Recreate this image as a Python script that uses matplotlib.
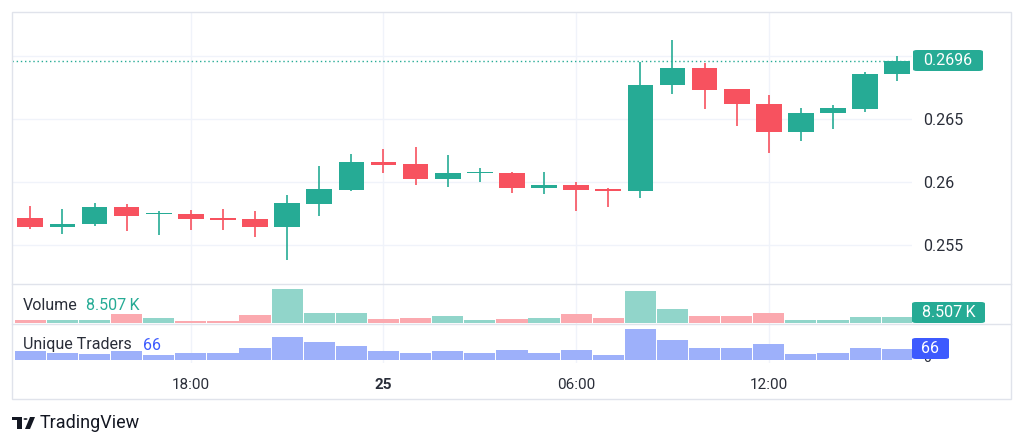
import matplotlib.pyplot as plt
from matplotlib.patches import Rectangle, FancyBboxPatch, Circle, Polygon
from matplotlib.lines import Line2D

plt.rcParams['font.family'] = ['Roboto', 'DejaVu Sans']

# hourly candles, 24th 13:00 -> 25th 16:00
opens = [0.25714, 0.25640, 0.25664, 0.25799, 0.25745, 0.25746, 0.25717, 0.25706,
         0.25645, 0.25823, 0.25937, 0.26156, 0.26140, 0.26024, 0.26069, 0.26074,
         0.25955, 0.25976, 0.25942, 0.25926, 0.26767, 0.26907, 0.26736, 0.26621,
         0.26397, 0.26545, 0.26582, 0.26855]
highs = [0.25810, 0.25786, 0.25833, 0.25828, 0.25770, 0.25778, 0.25783, 0.25770,
         0.25897, 0.26127, 0.26222, 0.26262, 0.26275, 0.26217, 0.26109, 0.26079,
         0.26077, 0.26000, 0.25950, 0.26955, 0.27127, 0.26947, 0.26736, 0.26688,
         0.26590, 0.26611, 0.26875, 0.27000]
lows = [0.25627, 0.25587, 0.25648, 0.25609, 0.25582, 0.25619, 0.25619, 0.25566,
        0.25379, 0.25730, 0.25931, 0.26071, 0.25979, 0.25963, 0.26002, 0.25910,
        0.25907, 0.25772, 0.25804, 0.25875, 0.26698, 0.26582, 0.26442, 0.26233,
        0.26325, 0.26421, 0.26556, 0.26802]
closes = [0.25643, 0.25669, 0.25799, 0.25733, 0.25750, 0.25709, 0.25698, 0.25643,
          0.25831, 0.25942, 0.26156, 0.26137, 0.26024, 0.26069, 0.26079, 0.25952,
          0.25976, 0.25939, 0.25926, 0.26767, 0.26907, 0.26730, 0.26617, 0.26397,
          0.26548, 0.26585, 0.26857, 0.26960]
volume_k = [4.0, 4.0, 4.0, 13.0, 7.0, 3.0, 3.0, 11.9, 50.2, 14.9, 14.9, 5.5, 7.0, 10.4,
            4.0, 5.5, 6.4, 13.4, 6.4, 47.7, 19.8, 9.4, 9.4, 14.5, 3.4, 3.4, 8.5, 8.507]
traders = [54, 44, 38, 54, 30, 40, 40, 70, 136, 110, 84, 54, 40, 54, 44, 58, 40, 62,
           28, 186, 120, 74, 70, 98, 38, 44, 70, 66]
time_ticks = [5, 11, 17, 23]
time_labels = ['18:00', '25', '06:00', '12:00']
price_ticks = [0.255, 0.26, 0.265]
price_labels = ['0.255', '0.26', '0.265']
last_price = 0.2696

UP = '#26ab95'
DOWN = '#f7525f'
UP_VOL = '#91d5ca'
DOWN_VOL = '#fba9af'
TR_BAR = '#9db0fa'
TR_BLUE = '#3d5afe'
GRID = '#f0f3fa'
BORDER = '#e0e3eb'
TEXT = '#131722'

W, H = 1024, 445
fig = plt.figure(figsize=(W / 100, H / 100), dpi=100)


def rect(x0, y0, x1, y1):
    # pixel box (top-left origin) -> figure rect
    return [x0 / W, 1 - y1 / H, (x1 - x0) / W, (y1 - y0) / H]


ax = fig.add_axes(rect(12, 12, 912, 284))
axv = fig.add_axes(rect(12, 284, 912, 324), sharex=ax)
axt = fig.add_axes(rect(12, 324, 912, 363), sharex=ax)

n = len(opens)
xs = list(range(n))
xlim = (-0.57, 27.46)

for a in (ax, axv, axt):
    a.set_xlim(*xlim)
    for s in a.spines.values():
        s.set_visible(False)
    a.tick_params(length=0)
    for t in time_ticks:
        a.axvline(t, color=GRID, lw=1, zorder=0)

# price pane
ax.set_ylim(0.25190, 0.27349)
for p in [0.255, 0.26, 0.265, 0.27]:
    ax.axhline(p, color=GRID, lw=1, zorder=0)
min_body = 0.00012
for i in xs:
    o, h, l, c = opens[i], highs[i], lows[i], closes[i]
    col = UP if c >= o else DOWN
    ax.vlines(i, l, h, color=col, lw=1.2, zorder=2)
    bot = min(o, c)
    ht = max(abs(c - o), min_body)
    ax.bar(i, ht, bottom=bot, width=0.8, color=col, zorder=3, lw=0)
ax.axhline(last_price, color=UP, lw=1, ls=(0, (1, 2)), zorder=1)
ax.yaxis.tick_right()
ax.set_yticks(price_ticks)
ax.set_yticklabels(price_labels)
ax.tick_params(axis='y', pad=8, labelsize=11.5, labelcolor='#2a2e39')
ax.tick_params(axis='x', labelbottom=False)

# volume pane
vcols = [UP_VOL if closes[i] >= opens[i] else DOWN_VOL for i in xs]
axv.bar(xs, volume_k, width=0.97, color=vcols, lw=0)
axv.set_ylim(-2, 58)
axv.set_yticks([])
axv.tick_params(axis='x', labelbottom=False)

# unique traders pane
axt.bar(xs, traders, width=0.97, color=TR_BAR, lw=0)
axt.set_ylim(-18, 216)
axt.set_yticks([])
axt.set_xticks(time_ticks)
axt.set_xticklabels(time_labels)
axt.tick_params(axis='x', pad=11, labelsize=11, labelcolor='#2a2e39')
axt.get_xticklabels()[1].set_fontweight('bold')

# frame and pane separators
fig.patches.append(Rectangle((12 / W, 1 - 399 / H), 999 / W, 387 / H, transform=fig.transFigure,
                             fill=False, ec=BORDER, lw=1))
for yy in (284, 324):
    fig.add_artist(Line2D([12 / W, 1011 / W], [1 - yy / H] * 2, color=BORDER, lw=1))


def label_box(x0, y0, x1, y1, color, text):
    fig.patches.append(FancyBboxPatch((x0 / W, 1 - y1 / H), (x1 - x0) / W, (y1 - y0) / H,
                                      boxstyle='round,pad=0,rounding_size=0.004',
                                      transform=fig.transFigure, fc=color, ec='none',
                                      zorder=2))
    fig.text((x0 + x1) / 2 / W, 1 - (y0 + y1) / 2 / H, text, color='white', fontsize=11.5,
             ha='center', va='center', zorder=3)


# axis zero of traders pane, mostly hidden behind the value label (as in the reference)
fig.text(927 / W, 1 - 358 / H, '0', color='#2a2e39', fontsize=10, ha='center', va='center',
         zorder=0.5)
label_box(913, 50, 983, 71, UP, '0.2696')
label_box(912, 302, 985, 323, UP, '8.507\u2009K')
label_box(912, 338, 949, 359, TR_BLUE, '66')

# legends
fig.text(23 / W, 1 - 305 / H, 'Volume', color='#2a2e39', fontsize=11.5, va='center')
fig.text(86 / W, 1 - 305 / H, '8.507\u2009K', color=UP, fontsize=11.5, va='center')
fig.text(23 / W, 1 - 345 / H, 'Unique Traders', color='#2a2e39', fontsize=11.5, va='center')
fig.text(143 / W, 1 - 345 / H, '66', color=TR_BLUE, fontsize=11.5, va='center')

# logo
fig.patches.append(Rectangle((12 / W, 1 - 420 / H), 10 / W, 3 / H, transform=fig.transFigure,
                             fc=TEXT, ec='none'))
fig.patches.append(Rectangle((17 / W, 1 - 429 / H), 5 / W, 12 / H, transform=fig.transFigure,
                             fc=TEXT, ec='none'))
fig.patches.append(Circle((25.5 / W, 1 - 419 / H), 2.0 / W, transform=fig.transFigure,
                          fc=TEXT, ec='none'))
fig.patches.append(Polygon([(30 / W, 1 - 417 / H), (35 / W, 1 - 417 / H), (30 / W, 1 - 429 / H),
                            (25 / W, 1 - 429 / H)], closed=True, transform=fig.transFigure,
                           fc=TEXT, ec='none'))
fig.text(40 / W, 1 - 423 / H, 'TradingView', color=TEXT, fontsize=13, va='center')

fig.savefig('out.png', dpi=100, facecolor='white')
